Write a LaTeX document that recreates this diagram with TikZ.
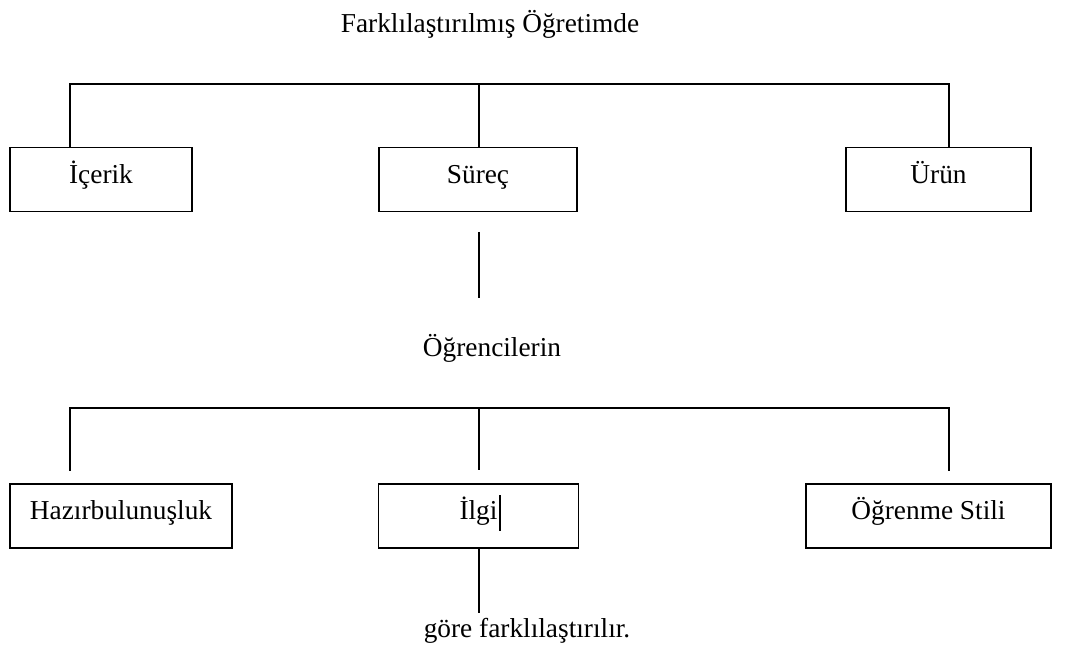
\documentclass[tikz,border=0pt]{standalone}
\usepackage{fontspec}
\setmainfont{Liberation Serif}
\begin{document}
\begin{tikzpicture}[x=0.75pt,y=-0.75pt,line width=1.4pt]
\tikzstyle{every node}=[font=\fontsize{20.5}{24}\selectfont]
\tikzstyle{kutu}=[draw,rectangle,inner sep=0pt,minimum height=48pt,text height=11pt,text depth=5.5pt]
\useasboundingbox (0,0) rectangle (1067,648);
% ust seviye
\node[anchor=base] (baslik) at (490,33) {Farklılaştırılmış Öğretimde};
\node[kutu,minimum width=137pt] (icerik) at (101,179.5) {İçerik};
\node[kutu,minimum width=149pt] (surec) at (478,179.5) {Süreç};
\node[kutu,minimum width=139pt] (urun) at (938.5,179.5) {Ürün};
\coordinate (u1) at (70,84);
\coordinate (u2) at (479,84);
\coordinate (u3) at (949,84);
\draw[line cap=rect] (u1 |- icerik.north)--(u1)--(u3)--(u3 |- urun.north);
\draw (u2)--(u2 |- surec.north);
\coordinate (s1) at (479,232);
\coordinate (s2) at (479,298);
\draw (s1)--(s2);
% alt seviye
\node[anchor=base] (ogrenci) at (492,357) {Öğrencilerin};
\node[kutu,minimum width=167pt] (hazir) at (121,516) {Hazırbulunuşluk};
\node[kutu,minimum width=150pt] (ilgi) at (478.5,516) {İlgi};
\node[kutu,minimum width=184pt] (stil) at (928.5,516) {Öğrenme Stili};
\coordinate (a1) at (70,408);
\coordinate (a2) at (479,408);
\coordinate (a3) at (949,408);
\draw[line cap=rect] (70,470)--(a1)--(a3)--(949,470);
\draw (a2)--(479,470);
\draw[line width=0.9pt] (500,495)--(500,531);
\node[anchor=base] (gore) at (527,637) {göre farklılaştırılır.};
\coordinate (g1) at (479,613);
\draw (ilgi.south -| g1)--(g1);
\end{tikzpicture}
\end{document}
